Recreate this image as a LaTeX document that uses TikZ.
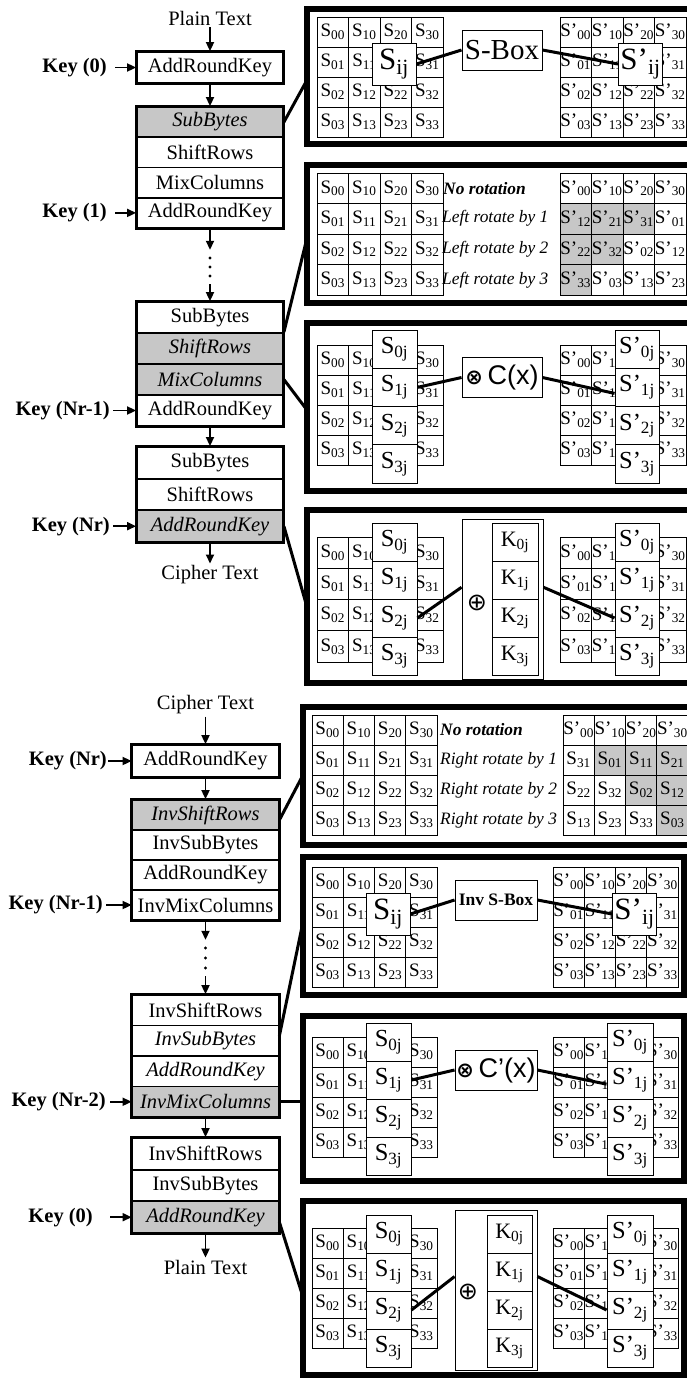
\documentclass[tikz,border=0pt]{standalone}
\usepackage{fontspec}
\setmainfont{Liberation Serif}
\newfontfamily\arialfont{Liberation Sans}
\newfontfamily\symbfont{DejaVu Sans}
\usetikzlibrary{arrows.meta}

\newcommand{\flowfont}{\fontsize{20.5pt}{24pt}\selectfont}
\newcommand{\cellfont}{\fontsize{19pt}{21pt}\selectfont}
\newcommand{\colfont}{\fontsize{24.5pt}{26pt}\selectfont}
\newcommand{\keyboxfont}{\fontsize{22pt}{24pt}\selectfont}
\newcommand{\bigfont}{\fontsize{31pt}{34pt}\selectfont}
\newcommand{\sboxfont}{\fontsize{29pt}{32pt}\selectfont}
\newcommand{\isboxfont}{\fontsize{17.5pt}{20pt}\selectfont\bfseries}
\newcommand{\rotfont}{\fontsize{17.4pt}{20pt}\selectfont\itshape}
\newcommand{\opfont}{\fontsize{27pt}{30pt}\selectfont\arialfont}
\newcommand{\otm}{{\fontsize{21pt}{21pt}\selectfont\symbfont\bfseries ⊗}}
\newcommand{\opl}{{\fontsize{24pt}{24pt}\selectfont\symbfont ⊕}}

% 4x4 state grid: name, left, top, cell width, cell height, prime
\newcommand{\sgrid}[6]{%
  \foreach \col in {0,...,3}{%
    \foreach \row in {0,...,3}{%
      \node[cell, minimum width=#4pt, minimum height=#5pt] (#1\col\row)
        at ({#2+#4*(\col+0.5)},{#3+#5*(\row+0.5)}) {S#6\textsubscript{\col\row}};
    }%
  }%
}

\begin{document}
\begin{tikzpicture}[x=1pt, y=-1pt,
    stage/.style={draw, line width=1.8pt, minimum width=146pt, inner sep=0pt, font=\flowfont},
    ital/.style={stage, font=\flowfont\itshape},
    hot/.style={stage, fill=black!22, font=\flowfont\itshape},
    plain/.style={font=\flowfont, inner sep=2pt},
    keylabel/.style={font=\flowfont\bfseries, anchor=east, inner sep=0pt},
    flow/.style={line width=1.8pt, -{Triangle[length=9pt, width=8pt]}},
    group/.style={line width=2.8pt},
    panel/.style={line width=6pt},
    link/.style={line width=3pt},
    cell/.style={draw, line width=0.9pt, fill=white, inner sep=0pt, font=\cellfont},
    colbox/.style={draw, line width=0.9pt, fill=white, minimum width=45pt, minimum height=38pt, inner sep=0pt, font=\colfont},
    bigbox/.style={draw, line width=0.9pt, fill=white, minimum width=44pt, minimum height=42pt, inner sep=0pt, font=\bigfont},
    opbox/.style={draw, line width=0.9pt, fill=white, minimum width=80pt, minimum height=40pt, inner sep=0pt},
    rotlabel/.style={font=\rotfont, anchor=west, inner sep=0pt}]
\useasboundingbox (0,0) rectangle (686,1378);

% ---------------- Encryption flow
\node[plain] (ptA) at (210,18) {Plain Text};
\node[stage, minimum height=31pt] (ark0) at (210,67.5) {AddRoundKey};
\node[keylabel] (key0) at (107,67.5) {Key (0)};

% round 1
\node[hot, minimum height=30.25pt] (sb1) at (210,122.1) {SubBytes};
\node[stage, minimum height=30.25pt] (sr1) at (210,152.4) {ShiftRows};
\node[stage, minimum height=30.25pt] (mc1) at (210,182.6) {MixColumns};
\node[stage, minimum height=30.25pt] (ark1) at (210,212.9) {AddRoundKey};
\node[keylabel] (key1) at (107,212.9) {Key (1)};

\node[minimum height=34pt] (dotsA) at (210,267) {};
\foreach \d in {-9,0,9} \fill ([yshift=\d pt]dotsA.center) circle (1.6pt);

% round Nr-1
\node[stage, minimum height=31pt] (sb2) at (210,317.5) {SubBytes};
\node[hot, minimum height=31pt] (sr2) at (210,348.5) {ShiftRows};
\node[hot, minimum height=31pt] (mc2) at (210,379.5) {MixColumns};
\node[stage, minimum height=31pt] (ark2) at (210,410.5) {AddRoundKey};
\node[keylabel] (keyNr1) at (110,410.5) {Key (Nr-1)};

% last round
\node[stage, minimum height=31.67pt] (sb3) at (210,462.8) {SubBytes};
\node[stage, minimum height=31.67pt] (sr3) at (210,494.5) {ShiftRows};
\node[hot, minimum height=31.67pt] (ark3) at (210,526.2) {AddRoundKey};
\node[keylabel] (keyNr) at (110,526.2) {Key (Nr)};
\node[plain] (ctA) at (210,575) {Cipher Text};

\draw[group] (ark0.north west) rectangle (ark0.south east);
\draw[group] (sb1.north west) rectangle (ark1.south east);
\draw[group] (sb2.north west) rectangle (ark2.south east);
\draw[group] (sb3.north west) rectangle (ark3.south east);

\draw[flow] (ptA) -- (ark0);
\draw[flow] (ark0) -- (sb1);
\draw[flow] (ark1) -- (dotsA);
\draw[flow] (dotsA) -- (sb2);
\draw[flow] (ark2) -- (sb3);
\draw[flow] (ark3) -- (ctA);
\draw[flow] ([xshift=8pt]key0.east) -- (ark0);
\draw[flow] ([xshift=8pt]key1.east) -- (ark1);
\draw[flow] ([xshift=3pt]keyNr1.east) -- (ark2);
\draw[flow] ([xshift=3pt]keyNr.east) -- (ark3);

% ---------------- Decryption flow
\node[plain] (ctB) at (205.5,705) {Cipher Text};
\node[stage, minimum height=32pt] (iark0) at (205.5,761) {AddRoundKey};
\node[keylabel] (ikeyNr) at (107,761) {Key (Nr)};

\node[hot, minimum height=30pt] (isr1) at (205.5,815) {InvShiftRows};
\node[stage, minimum height=30pt] (isb1) at (205.5,845) {InvSubBytes};
\node[stage, minimum height=30pt] (iark1) at (205.5,875) {AddRoundKey};
\node[stage, minimum height=30pt] (imc1) at (205.5,905) {InvMixColumns};
\node[keylabel] (ikeyNr1) at (103,905) {Key (Nr-1)};

\node[minimum height=36pt] (dotsB) at (205.5,958) {};
\foreach \d in {-10,0,10} \fill ([yshift=\d pt]dotsB.center) circle (1.6pt);

\node[stage, minimum height=30.5pt] (isr2) at (205.5,1010.25) {InvShiftRows};
\node[ital, minimum height=30.5pt] (isb2) at (205.5,1040.75) {InvSubBytes};
\node[ital, minimum height=30.5pt] (iark2) at (205.5,1071.25) {AddRoundKey};
\node[hot, minimum height=30.5pt] (imc2) at (205.5,1101.75) {InvMixColumns};
\node[keylabel] (ikeyNr2) at (106,1101.75) {Key (Nr-2)};

\node[stage, minimum height=31.67pt] (isr3) at (205.5,1153.8) {InvShiftRows};
\node[stage, minimum height=31.67pt] (isb3) at (205.5,1185.5) {InvSubBytes};
\node[hot, minimum height=31.67pt] (iark3) at (205.5,1217.2) {AddRoundKey};
\node[keylabel] (ikey0) at (93,1217.2) {Key (0)};
\node[plain] (ptB) at (205.5,1267) {Plain Text};

\draw[group] (iark0.north west) rectangle (iark0.south east);
\draw[group] (isr1.north west) rectangle (imc1.south east);
\draw[group] (isr2.north west) rectangle (imc2.south east);
\draw[group] (isr3.north west) rectangle (iark3.south east);

\draw[flow] (ctB) -- (iark0);
\draw[flow] (iark0) -- (isr1);
\draw[flow] (imc1) -- (dotsB);
\draw[flow] (dotsB) -- (isr2);
\draw[flow] (imc2) -- (isr3);
\draw[flow] (iark3) -- (ptB);
\draw[flow] ([xshift=1pt]ikeyNr.east) -- (iark0);
\draw[flow] ([xshift=3pt]ikeyNr1.east) -- (imc1);
\draw[flow] ([xshift=4pt]ikeyNr2.east) -- (imc2);
\draw[flow] ([xshift=17pt]ikey0.east) -- (iark3);

% ---------------- Panels
\draw[panel] (307,9) rectangle (700,144);
\draw[panel] (307,165) rectangle (700,303);
\draw[panel] (307,323) rectangle (700,491);
\draw[panel] (307,510) rectangle (700,683);
\draw[panel] (303,707) rectangle (700,845);
\draw[panel] (303,857) rectangle (684,995);
\draw[panel] (303,1016) rectangle (684,1181);
\draw[panel] (303,1201) rectangle (684,1375);

% SubBytes
\sgrid{pa}{317}{17}{31.5}{30}{}
\sgrid{pb}{560}{17}{31.5}{30}{’}
\node[bigbox] (sij) at (394,64) {S\textsubscript{ij}};
\node[opbox, font=\sboxfont] (sbox) at (502,50) {S-Box};
\node[bigbox] (sijp) at (640.5,64) {S’\textsubscript{ij}};
\draw[link] (sij.east) -- (sbox.west);
\draw[link] (sbox.east) -- (sijp.west);

% ShiftRows
\sgrid{qa}{317}{173}{31.5}{30.5}{}
\node[rotlabel, font=\rotfont\bfseries] (rq0) at (443,188.25) {No rotation};
\node[rotlabel] (rq1) at (442,218.75) {Left rotate by 1};
\node[rotlabel] (rq2) at (442,249.25) {Left rotate by 2};
\node[rotlabel] (rq3) at (442,279.75) {Left rotate by 3};
\foreach \col/\row/\txt/\shade in {0/0/00/white, 1/0/10/white, 2/0/20/white, 3/0/30/white,
    0/1/12/black!22, 1/1/21/black!22, 2/1/31/black!22, 3/1/01/white,
    0/2/22/black!22, 1/2/32/black!22, 2/2/02/white, 3/2/12/white,
    0/3/33/black!22, 1/3/03/white, 2/3/13/white, 3/3/23/white}
  \node[cell, fill=\shade, minimum width=31.5pt, minimum height=30.5pt] (qb\col\row)
    at ({560+31.5*(\col+0.5)},{173+30.5*(\row+0.5)}) {S’\textsubscript{\txt}};

% MixColumns
\sgrid{ra}{317}{345}{31.5}{30}{}
\sgrid{rb}{560}{345}{31.5}{30}{’}
\foreach \row in {0,...,3} {
  \node[colbox, minimum height=38.25pt] (rcol\row) at (394.5,{330+38.25*(\row+0.5)}) {S\textsubscript{\row j}};
  \node[colbox, minimum height=38.25pt, minimum width=44pt] (rcolp\row) at (637,{330+38.25*(\row+0.5)}) {S’\textsubscript{\row j}};
}
\node[opbox, font=\opfont] (mixA) at (502,377.5) {\otm\,C(x)};
\draw[link] (rcol1.east) -- (mixA.west);
\draw[link] (mixA.east) -- (rcolp1.195);

% AddRoundKey
\sgrid{ta}{317}{537}{31.5}{31.25}{}
\sgrid{tb}{560}{537}{31.5}{31.25}{’}
\node[opbox, minimum width=81pt, minimum height=160pt] (xorA) at (502.5,599) {};
\node[inner sep=0pt] (plusA) at (477,603) {\opl};
\foreach \row in {0,...,3} {
  \node[colbox] (tcol\row) at (394.5,{523+38*(\row+0.5)}) {S\textsubscript{\row j}};
  \node[colbox, minimum width=46pt, font=\keyboxfont] (tkey\row) at (515,{523+38*(\row+0.5)}) {K\textsubscript{\row j}};
  \node[colbox, minimum width=44pt] (tcolp\row) at (637,{523+38*(\row+0.5)}) {S’\textsubscript{\row j}};
}
\draw[link] (tcol2.east) -- (xorA.164);
\draw[link] (xorA.16) -- (tcolp2.west);

% InvShiftRows
\sgrid{ua}{312}{715}{31.25}{30}{}
\node[rotlabel, font=\rotfont\bfseries] (ru0) at (440,730) {No rotation};
\node[rotlabel] (ru1) at (440,760) {Right rotate by 1};
\node[rotlabel] (ru2) at (440,790) {Right rotate by 2};
\node[rotlabel] (ru3) at (440,820) {Right rotate by 3};
\foreach \col/\row/\mk/\txt/\shade in {0/0/’/00/white, 1/0/’/10/white, 2/0/’/20/white, 3/0/’/30/white,
    0/1/{}/31/white, 1/1/{}/01/black!22, 2/1/{}/11/black!22, 3/1/{}/21/black!22,
    0/2/{}/22/white, 1/2/{}/32/white, 2/2/{}/02/black!22, 3/2/{}/12/black!22,
    0/3/{}/13/white, 1/3/{}/23/white, 2/3/{}/33/white, 3/3/{}/03/black!22}
  \node[cell, fill=\shade, minimum width=31.25pt, minimum height=30pt] (ub\col\row)
    at ({563+31.25*(\col+0.5)},{715+30*(\row+0.5)}) {S\mk\textsubscript{\txt}};

% InvSubBytes
\sgrid{va}{312}{867}{31.25}{30}{}
\sgrid{vb}{553}{867}{31.25}{30}{’}
\node[bigbox] (isij) at (388,914) {S\textsubscript{ij}};
\node[opbox, minimum width=82pt, font=\isboxfont] (isbox) at (496,900) {Inv S-Box};
\node[bigbox] (isijp) at (634.5,914) {S’\textsubscript{ij}};
\draw[link] (isij.east) -- (isbox.west);
\draw[link] (isbox.east) -- (isijp.west);

% InvMixColumns
\sgrid{wa}{312}{1037}{31.25}{30}{}
\sgrid{wb}{553}{1037}{31.25}{30}{’}
\foreach \row in {0,...,3} {
  \node[colbox] (wcol\row) at (388.5,{1023+38*(\row+0.5)}) {S\textsubscript{\row j}};
  \node[colbox, minimum width=46pt] (wcolp\row) at (630,{1023+38*(\row+0.5)}) {S’\textsubscript{\row j}};
}
\node[opbox, minimum width=82pt, font=\opfont] (mixB) at (496,1070) {\otm\,C’(x)};
\draw[link] (wcol1.east) -- (mixB.west);
\draw[link] (mixB.east) -- (wcolp1.190);

% AddRoundKey (inverse)
\sgrid{za}{312}{1228}{31.25}{30}{}
\sgrid{zb}{553}{1228}{31.25}{30}{’}
\node[opbox, minimum width=82pt, minimum height=160pt] (xorB) at (496,1290) {};
\node[inner sep=0pt] (plusB) at (468,1292) {\opl};
\foreach \row in {0,...,3} {
  \node[colbox] (zcol\row) at (388.5,{1215+38*(\row+0.5)}) {S\textsubscript{\row j}};
  \node[colbox, font=\keyboxfont] (zkey\row) at (509.5,{1215+38*(\row+0.5)}) {K\textsubscript{\row j}};
  \node[colbox, minimum width=46pt] (zcolp\row) at (630,{1215+38*(\row+0.5)}) {S’\textsubscript{\row j}};
}
\draw[link] (zcol2.east) -- (xorB.162);
\draw[link] (xorB.18) -- (zcolp2.west);

% ---------------- Links from the flow to the panels
\coordinate (pin1) at (307,80);
\coordinate (pin2) at (307,238);
\coordinate (pin3) at (307,410);
\coordinate (pin4) at (307,607);
\coordinate (pin5) at (303,775);
\coordinate (pin6) at (303,922);
\coordinate (pin7) at (303,1101.75);
\coordinate (pin8) at (303,1297);
\draw[link] (sb1.east) -- (pin1);
\draw[link] (sr2.north east) -- (pin2);
\draw[link] (mc2.east) -- (pin3);
\draw[link] (ark3.east) -- (pin4);
\draw[link] ([yshift=-5pt]isr1.east) -- (pin5);
\draw[link] ([yshift=5pt]isb2.east) -- (pin6);
\draw[link] (imc2.east) -- (pin7);
\draw[link] ([yshift=-5pt]iark3.east) -- (pin8);
\end{tikzpicture}
\end{document}
